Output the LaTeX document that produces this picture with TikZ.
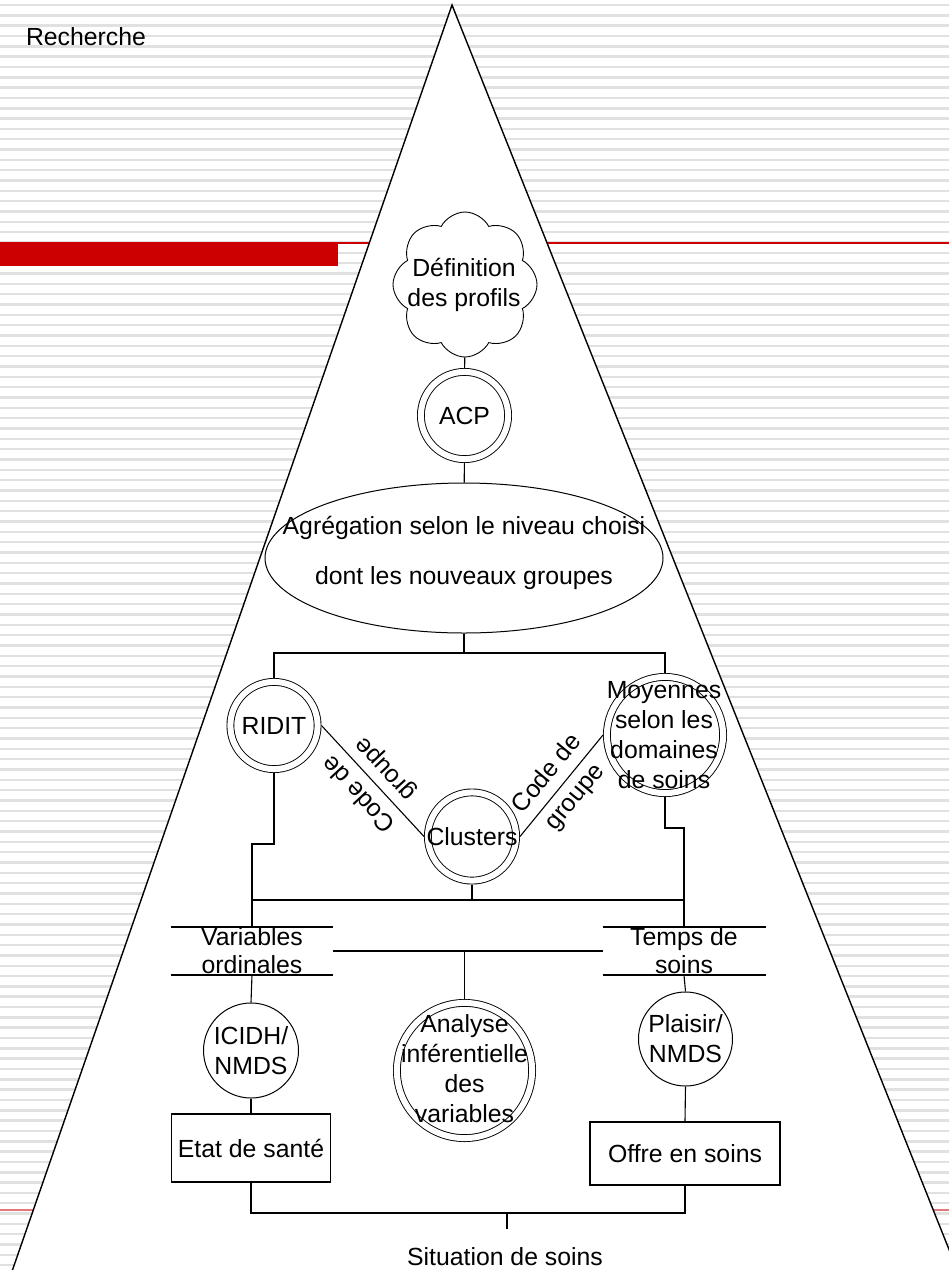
\documentclass[tikz,border=0pt]{standalone}
\usepackage{fontspec}
\setmainfont{Liberation Sans}
\usetikzlibrary{shapes.geometric,shapes.symbols}
\newcommand{\dfont}{\fontsize{24.8}{30}\selectfont}
\definecolor{stripegray}{RGB}{225,225,225}
\definecolor{barred}{RGB}{204,0,0}
\definecolor{palered}{RGB}{226,120,120}
\begin{document}
\begin{tikzpicture}[x=1pt,y=-1pt,
  every node/.style={font=\dfont, inner sep=0pt},
  txt/.style={align=center},
  wire/.style={draw=black, line width=1.1pt},
  dcirc/.style={circle, draw, double, double distance=6pt, line width=0.9pt, fill=white, outer sep=3.9pt},
  scirc/.style={circle, draw, line width=1pt, fill=white, align=center},
  box/.style={rectangle, draw, line width=1.1pt, fill=white},
  store/.style={rectangle, align=center, outer sep=0pt},
  stripe/.style={stripegray, line width=2.4pt}]

% page and ruled background
\clip (0,0) rectangle (949,1270);
\fill[white] (0,0) rectangle (949,1270);
\foreach \i in {0,...,123} \draw[stripe] (0,{5+10.33*\i}) -- (949,{5+10.33*\i});
\draw[barred, line width=2pt] (0,242.7) -- (949,242.7);
\fill[barred] (0,241.7) rectangle (338,265.7);
\draw[palered, line width=1.2pt] (0,1210) -- (949,1210);
\node[txt] (rec) at (86,37) {Recherche};

% the pyramid
\filldraw[fill=white, draw=black, line width=1.4pt] (452,5) -- (8.3,1282) -- (962,1282) -- cycle;

% shapes
\node[cloud, draw, fill=white, cloud puffs=8, cloud puff arc=125, aspect=1,
      minimum width=144pt, minimum height=145pt, line width=0.9pt] (cld) at (465,284.5) {};
\node[txt] (cldt) at (464,285) {Définition\\des profils};
\node[dcirc, minimum size=87.2pt] (acp) at (464.5,415.5) {ACP};
\node[ellipse, draw, fill=white, line width=1pt, minimum width=398pt, minimum height=150pt] (agg) at (464,558) {};
\node[txt] (aggt) at (464,553) {Agrégation selon le niveau choisi\\[20pt]dont les nouveaux groupes};
\node[dcirc, minimum size=87.2pt] (rid) at (274,725.5) {RIDIT};
\node[dcirc, minimum size=116.2pt] (moy) at (665,735) {};
\node[txt] (moyt) at (664,735) {Moyennes\\selon les\\domaines\\de soins};
\node[dcirc, minimum size=88.2pt] (clu) at (472,836.5) {\makebox[0pt]{Clusters}};
\node[store, minimum width=162pt, minimum height=48pt] (var) at (252,951) {Variables\\[-2pt]ordinales};
\node[store, minimum width=163pt, minimum height=48pt] (tem) at (684,951) {Temps de\\[-2pt]soins};
\node[dcirc, minimum size=135.2pt] (ana) at (464.5,1070.5) {};
\node[txt] (anat) at (464.5,1069) {Analyse\\inférentielle\\des\\variables};
\node[scirc, minimum size=95pt] (ici) at (251,1050.5) {ICIDH/\\NMDS};
\node[scirc, minimum size=94pt] (pla) at (685.5,1039) {Plaisir/\\NMDS};
\node[box, minimum width=159pt, minimum height=68pt] (eta) at (251,1148) {Etat de santé};
\node[box, minimum width=190pt, minimum height=63pt] (off) at (685,1153.5) {Offre en soins};
\node[txt] (sit) at (505,1257) {Situation de soins};

% junction points
\coordinate (busa) at (464,653);
\coordinate (jl) at (252,844);
\coordinate (jr) at (684,828);
\coordinate (busc) at (472,900);
\coordinate (busb) at (507,1213);
\coordinate (sitend) at (507,1229);

% data store rules
\draw[wire] (var.north west) -- (var.north east) (var.south west) -- (var.south east);
\draw[wire] (tem.north west) -- (tem.north east) (tem.south west) -- (tem.south east);

% connectors
\draw[wire] (cld) -- (acp);
\draw[wire] (acp) -- (agg);
\draw[wire] (agg.south) -- (busa);
\draw[wire] (rid.north) |- (busa) -| (moy.north);
\draw[wire] (rid.east) -- node[txt, rotate=132.9] (cdl) {Code de\\[6pt]groupe} (clu.west);
\draw[wire] (clu.east) -- node[txt, rotate=50.6] (cdr) {Code de\\[6pt]groupe} (moy.west);
\draw[wire] (rid.south) |- (jl) -- (var.north);
\draw[wire] (moy.south) |- (jr) -- (tem.north);
\draw[wire] (clu.south) -- (busc);
\draw[wire] (var.north |- busc) -- (tem.north |- busc);
\draw[wire] (var.east) -- (tem.west);
\draw[wire] (ana.north) -- (ana.north |- var.east);
\draw[wire] (var.south) -- (ici.north);
\draw[wire] (ici.south) -- (eta.north);
\draw[wire] (tem.south) -- (pla.north);
\draw[wire] (pla.south) -- (off.north);
\draw[wire] (eta.south) |- (busb) -| (off.south);
\draw[wire] (busb) -- (sitend);
\end{tikzpicture}
\end{document}
